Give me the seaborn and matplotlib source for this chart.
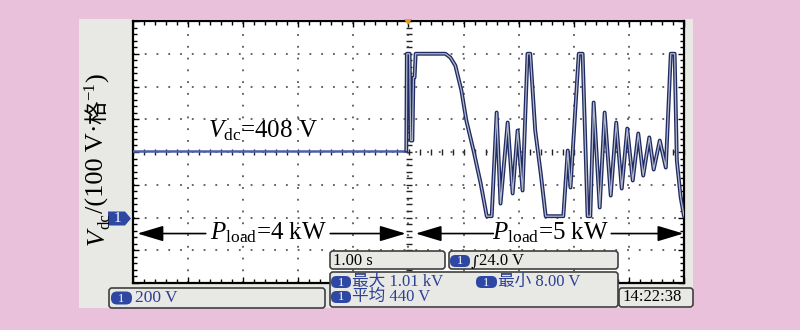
import numpy as np
import pandas as pd
import matplotlib
matplotlib.use("Agg")
import matplotlib.pyplot as plt
import seaborn as sns
import matplotlib.patheffects as pe
from matplotlib.patches import FancyBboxPatch, Polygon, Rectangle
from matplotlib.transforms import IdentityTransform

time_s = [-5.0, -0.04, -0.03, 0.02, 0.04, 0.07, 0.09, 0.11, 0.13, 0.67,
          0.76, 0.85, 0.96, 1.05, 1.18, 1.31, 1.42, 1.51, 1.60, 1.67,
          1.80, 1.89, 1.98, 2.07, 2.16, 2.21, 2.30, 2.40, 2.49, 2.81,
          2.89, 2.94, 3.09, 3.16, 3.25, 3.30, 3.36, 3.47, 3.56, 3.67,
          3.77, 3.87, 3.97, 4.07, 4.17, 4.26, 4.37, 4.45, 4.56, 4.67,
          4.76, 4.83, 4.87, 4.94, 5.0]
voltage_v = [408, 408, 1000, 1000, 470, 470, 855, 855, 1000, 1000,
             977, 928, 776, 592, 409, 208, 8, 8, 641, 85,
             580, 147, 531, 165, 1000, 1000, 531, 269, 8, 8,
             409, 183, 1000, 1000, 8, 8, 702, 61, 641, 134,
             580, 177, 543, 226, 513, 256, 489, 293, 470, 305,
             1000, 1000, 348, 122, 8]

vdc_label = r"$V_{\mathrm{dc}}$=408 V"
load_labels = [r"$P_{\mathrm{load}}$=4 kW", r"$P_{\mathrm{load}}$=5 kW"]
timebase_text = "1.00 s"
integral_sign = "\u222b"
integral_text = "24.0 V"
max_text = "最大 1.01 kV"
mean_text = "平均 440 V"
min_text = "最小 8.00 V"
scale_text = "200 V"
clock_text = "14:22:38"

# ---------------- style ----------------
sns.set_theme(style="white")
plt.rcParams["font.family"] = ["Liberation Serif", "Noto Sans CJK SC", "DejaVu Sans"]
plt.rcParams["mathtext.fontset"] = "custom"
plt.rcParams["mathtext.rm"] = "Liberation Serif"
plt.rcParams["mathtext.it"] = "Liberation Serif:italic"

PINK = "#e9c1da"
PANEL = "#e8e8e4"
BLUE_TXT = "#2b3f96"
ICON = "#2d47a3"

W, H = 800, 330
fig = plt.figure(figsize=(W / 100, H / 100), dpi=100, facecolor=PINK)

# background layer (pixel coords, y downwards)
bg = fig.add_axes([0, 0, 1, 1], zorder=0)
bg.set_xlim(0, W); bg.set_ylim(H, 0); bg.axis("off")
bg.add_patch(Rectangle((79, 19), 614, 289, fc=PANEL, ec="none"))

# main scope screen
L, R, T, B = 133, 684, 21, 283
ax = fig.add_axes([L / W, 1 - B / H, (R - L) / W, (B - T) / H], zorder=1)
ax.set_facecolor("white")

df = pd.DataFrame({"t": time_s, "v": voltage_v})
pre = df[df["t"] <= -0.04]
post = df[df["t"] >= -0.04]

sns.lineplot(data=pre, x="t", y="v", ax=ax, color="#4a60a8", lw=1.8,
             estimator=None, sort=False, zorder=4)
sns.lineplot(data=post, x="t", y="v", ax=ax, color="#b3b8ca", lw=0.9,
             estimator=None, sort=False, zorder=4)
ax.lines[-1].set_path_effects([pe.Stroke(linewidth=2.8, foreground="#1f2b63"), pe.Normal()])

ax.set_xlim(-5, 5)
ax.set_ylim(-400, 1200)
ax.set_xlabel(""); ax.set_ylabel("")
ax.set_xticks(np.arange(-5, 5.01, 1))
ax.set_xticks(np.arange(-5, 5.01, 0.2), minor=True)
ax.set_yticks(np.arange(-400, 1201, 200))
ax.set_yticks(np.arange(-400, 1201, 40), minor=True)
ax.tick_params(which="both", direction="in", top=True, right=True, bottom=True, left=True,
               labelbottom=False, labelleft=False, color="black", width=1)
ax.tick_params(which="major", length=4)
ax.tick_params(which="minor", length=3)
ax.grid(True, which="major", color="#3a3a3a", linestyle=(0, (1.2, 6.5)), lw=1.1)
for s in ax.spines.values():
    s.set_color("black"); s.set_linewidth(1.6)

# centre graticule lines with fine tick marks
sy = ax.secondary_yaxis(0.5)
sy.set_yticks(np.arange(-400, 1201, 40))
sy.tick_params(which="both", direction="inout", length=5, width=1, labelleft=False,
               labelright=False, color="#222")
for s in sy.spines.values():
    s.set_visible(False)
sx = ax.secondary_xaxis(0.5)
sx.set_xticks(np.arange(-5, 5.01, 0.2))
sx.tick_params(which="both", direction="inout", length=5, width=1, labelbottom=False,
               labeltop=False, color="#222")
for s in sx.spines.values():
    s.set_visible(False)

# annotations in data space
ax.text(-3.63, 492, vdc_label, ha="left", va="baseline", fontsize=18, color="black", zorder=6)
arrow_kw = dict(arrowstyle="-|>,head_length=0.8,head_width=0.24", mutation_scale=20,
                lw=1.2, color="black", shrinkA=0, shrinkB=0)
ax.annotate("", xy=(-4.92, -98), xytext=(-3.68, -98), arrowprops=arrow_kw)
ax.annotate("", xy=(-0.05, -98), xytext=(-1.42, -98), arrowprops=arrow_kw)
ax.annotate("", xy=(0.13, -98), xytext=(1.54, -98), arrowprops=arrow_kw)
ax.annotate("", xy=(4.99, -98), xytext=(3.68, -98), arrowprops=arrow_kw)
ax.text(-2.54, -134, load_labels[0], ha="center", va="baseline", fontsize=18, color="black")
ax.text(2.58, -134, load_labels[1], ha="center", va="baseline", fontsize=18, color="black")

# overlay layer (pixel coords, y downwards)
ov = fig.add_axes([0, 0, 1, 1], zorder=2)
ov.set_xlim(0, W); ov.set_ylim(H, 0); ov.axis("off"); ov.patch.set_alpha(0)


def box(x0, y0, x1, y1):
    r = 3
    ov.add_patch(FancyBboxPatch((x0 + r, y0 + r), x1 - x0 - 2 * r, y1 - y0 - 2 * r,
                                boxstyle=f"round,pad={r}", fc=PANEL, ec="#3f3f3f", lw=1.2))


def pill(x0, yc, w=20, h=12):
    r = h / 2 - 0.5
    ov.add_patch(FancyBboxPatch((x0 + r, yc - h / 2 + r), w - 2 * r, h - 2 * r,
                                boxstyle=f"round,pad={r}", fc=ICON, ec="none"))
    ov.text(x0 + w / 2, yc + 0.5, "1", color="white", fontsize=9, ha="center", va="center")


box(330, 251, 445, 269)
box(449, 251, 618, 269)
box(330, 272, 618, 307)
box(109, 288, 325, 308)
box(619, 288, 693, 307)

ov.text(333, 261, timebase_text, fontsize=12, ha="left", va="center", color="black")
pill(450, 261, 20, 12)
ov.text(470.5, 261, integral_sign, fontsize=11, ha="left", va="center", color="black",
        family=["DejaVu Serif", "DejaVu Sans"])
ov.text(479, 261, integral_text, fontsize=12, ha="left", va="center", color="black")
pill(331, 282)
ov.text(352, 282, max_text, fontsize=12, ha="left", va="center", color=BLUE_TXT)
pill(331, 297)
ov.text(352, 297, mean_text, fontsize=12, ha="left", va="center", color=BLUE_TXT)
pill(476, 282, 21)
ov.text(498, 282, min_text, fontsize=12, ha="left", va="center", color=BLUE_TXT)
pill(111, 298, 21, 13)
ov.text(135, 298, scale_text, fontsize=12.5, ha="left", va="center", color=BLUE_TXT)
ov.text(622, 297, clock_text, fontsize=12, ha="left", va="center", color="black")

# channel ground marker and trigger marker
ov.add_patch(Polygon([(108, 211.5), (125, 211.5), (131, 218.5), (125, 225.5), (108, 225.5)],
                     closed=True, fc=ICON, ec="none"))
ov.text(117, 219, "1", color="white", fontsize=11, ha="center", va="center")
ov.add_patch(Polygon([(404, 19), (412, 19), (408, 25)], closed=True, fc="#e89a2c", ec="none"))

# rotated composite y label
fig.canvas.draw()
renderer = fig.canvas.get_renderer()
pieces = [
    ("V", dict(fontsize=19, style="italic", family=["Liberation Serif"]), 0),
    ("dc", dict(fontsize=12, family=["Liberation Serif"]), 5),
    ("/(100 V\u00b7", dict(fontsize=19, family=["Liberation Serif"]), 0),
    ("格", dict(fontsize=17, family=["Noto Sans CJK SC"]), 0),
    ("\u22121", dict(fontsize=12, family=["Liberation Serif"]), -10),
    (")", dict(fontsize=19, family=["Liberation Serif"]), 0),
]
x_base, y_cur = 104, H - 245
for txt, kw, dx in pieces:
    t = fig.text(x_base + dx, y_cur, txt, transform=IdentityTransform(), rotation=90,
                 rotation_mode="anchor", ha="left", va="baseline", color="black", **kw)
    bb = t.get_window_extent(renderer)
    y_cur += bb.height

fig.savefig("out.png", dpi=100, facecolor=PINK)
